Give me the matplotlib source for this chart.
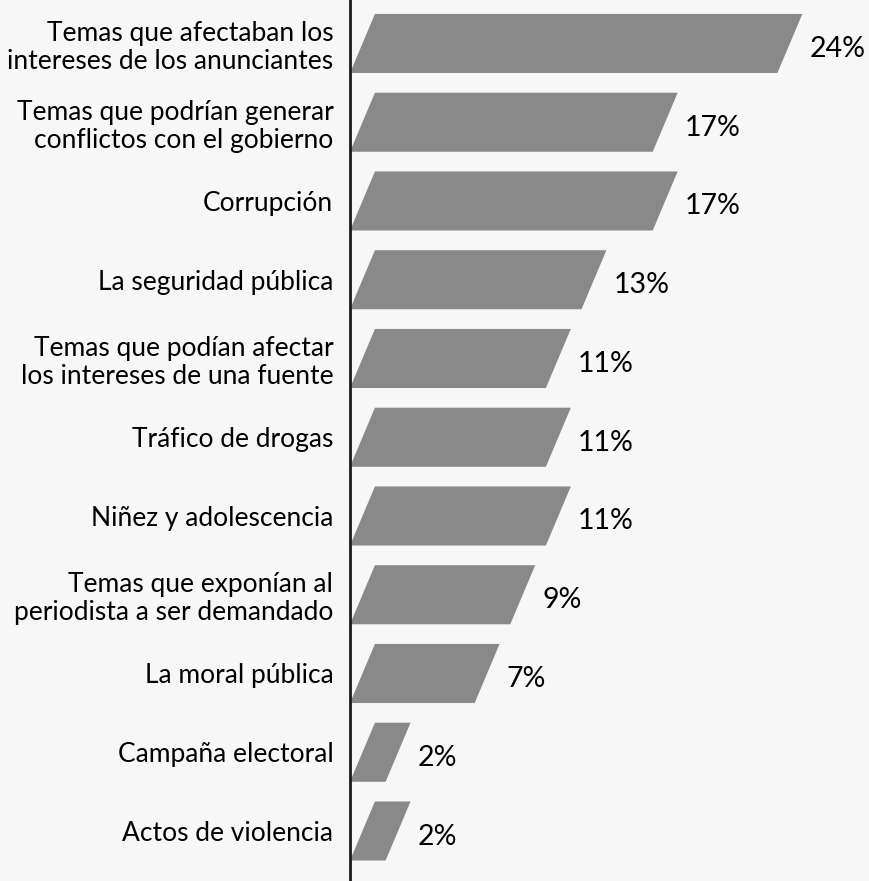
import matplotlib
matplotlib.use("Agg")
import matplotlib.pyplot as plt
from matplotlib.patches import Polygon

# datos del gráfico
categorias = [
    "Temas que afectaban los\nintereses de los anunciantes",
    "Temas que podrían generar\nconflictos con el gobierno",
    "Corrupción",
    "La seguridad pública",
    "Temas que podían afectar\nlos intereses de una fuente",
    "Tráfico de drogas",
    "Niñez y adolescencia",
    "Temas que exponían al\nperiodista a ser demandado",
    "La moral pública",
    "Campaña electoral",
    "Actos de violencia",
]
valores = [24, 17, 17, 13, 11, 11, 11, 9, 7, 2, 2]

fondo = "#f7f7f7"
gris = "#898989"

plt.rcParams["font.family"] = ["Lato", "DejaVu Sans"]

fig = plt.figure(figsize=(8.7, 8.81), dpi=100, facecolor=fondo)
ax = fig.add_axes([350 / 870, 0, 520 / 870, 1])
ax.set_facecolor(fondo)

alto = 0.75     # alto de la barra (unidades de categoría)
sesgo = 1.4     # desplazamiento horizontal de la parte superior

for i, v in enumerate(valores):
    y0 = i + alto / 2
    y1 = i - alto / 2
    poly = Polygon([(0, y0), (v, y0), (v + sesgo, y1), (sesgo, y1)],
                   closed=True, facecolor=gris, edgecolor="none")
    ax.add_patch(poly)
    ax.text(v + 1.8, i + 0.07, f"{v}%", ha="left", va="center",
            fontsize=20.5, color="black")

ax.set_xlim(0, 29.2)
ax.set_ylim(10.635, -0.552)

ax.set_yticks(range(len(categorias)))
ax.set_yticklabels(categorias, fontsize=19, linespacing=1.15)
ax.tick_params(axis="y", length=0, pad=12)
ax.set_xticks([])

for lado in ["top", "right", "bottom"]:
    ax.spines[lado].set_visible(False)
ax.spines["left"].set_linewidth(2)
ax.spines["left"].set_color("#1a1a1a")

fig.savefig("out.png", dpi=100, facecolor=fondo)
plt.close(fig)
